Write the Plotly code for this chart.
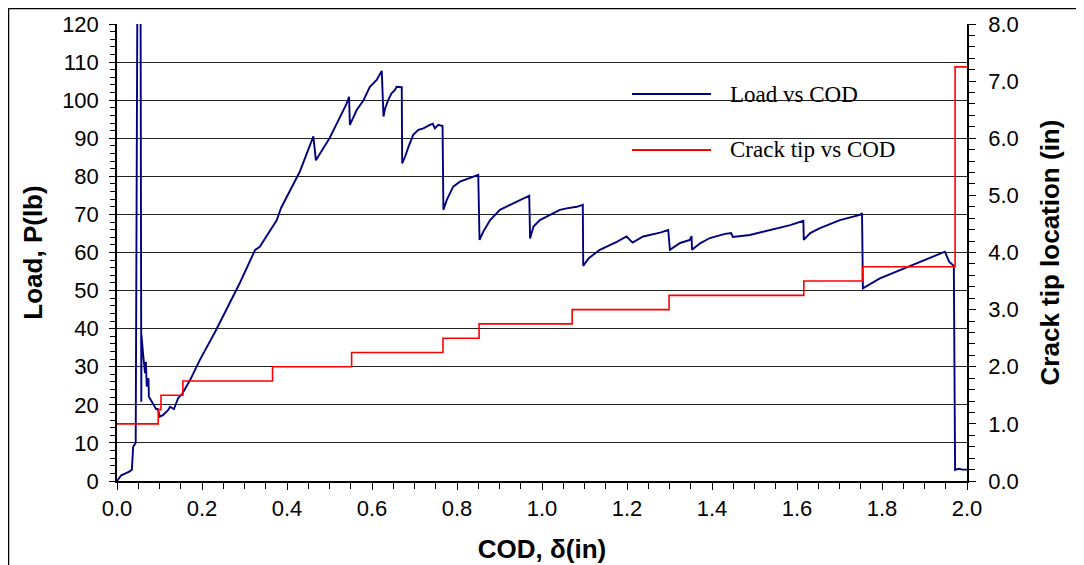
import plotly.graph_objects as go

# Load vs COD (left axis, lb)
cod_load = [0.0, 0.01, 0.02, 0.03, 0.035, 0.038, 0.044, 0.0477, 0.051, 0.0557, 0.0572,
            0.0575, 0.062, 0.066, 0.068, 0.070, 0.074, 0.075, 0.082, 0.092, 0.096, 0.101,
            0.108, 0.120, 0.125, 0.134, 0.144, 0.153, 0.172, 0.195, 0.231, 0.266, 0.289,
            0.325, 0.336, 0.376, 0.386, 0.43, 0.46, 0.462, 0.468, 0.48, 0.50, 0.52, 0.54,
            0.546, 0.548, 0.564, 0.58, 0.595, 0.611, 0.623, 0.627, 0.631, 0.638, 0.646,
            0.654, 0.658, 0.670, 0.671, 0.678, 0.686, 0.697, 0.709, 0.721, 0.736, 0.743,
            0.748, 0.756, 0.766, 0.768, 0.776, 0.791, 0.807, 0.827, 0.842, 0.850, 0.853,
            0.862, 0.878, 0.901, 0.925, 0.948, 0.970, 0.972, 0.98, 0.995, 1.019, 1.042,
            1.058, 1.082, 1.096, 1.097, 1.11, 1.136, 1.176, 1.199, 1.213, 1.238, 1.278,
            1.297, 1.301, 1.325, 1.348, 1.352, 1.353, 1.372, 1.395, 1.431, 1.445, 1.449,
            1.489, 1.536, 1.584, 1.615, 1.616, 1.631, 1.654, 1.701, 1.748, 1.753, 1.755,
            1.795, 1.842, 1.889, 1.925, 1.948, 1.958, 1.969, 1.972, 1.98, 1.99, 2.0]
load = [0.0, 1.5, 2.0, 2.5, 3.0, 9.0, 10.0, 120.0, 400.0, 120.0, 20.8,
        38.3, 32.6, 28.3, 31.3, 24.8, 27.0, 22.1, 20.8, 18.9, 18.9, 16.9,
        17.3, 18.6, 19.5, 18.9, 21.8, 22.8, 26.5, 31.8, 39.2, 46.7, 52.0,
        60.7, 61.5, 68.5, 71.7, 81.2, 90.3, 90.5, 84.2, 86.5, 90.0, 94.5, 99.0,
        100.9, 93.5, 97.4, 100.0, 103.5, 105.3, 107.7, 95.7, 97.9, 100.0, 101.8,
        102.7, 103.5, 103.4, 83.4, 85.2, 87.8, 90.9, 92.2, 92.6, 93.5, 93.8,
        92.6, 93.5, 93.2, 71.2, 73.8, 77.3, 78.6, 79.5, 80.1, 80.4, 63.3,
        65.5, 68.5, 71.2, 72.5, 73.8, 74.9, 63.7, 66.8, 68.5, 69.9, 71.2,
        71.6, 72.0, 72.5, 56.5, 58.5, 60.7, 62.8, 64.2, 62.6, 64.2, 65.2,
        65.9, 60.7, 62.5, 63.3, 64.3, 60.7, 62.4, 63.8, 64.9, 65.1, 64.1,
        64.6, 65.9, 67.2, 68.3, 63.3, 65.1, 66.4, 68.5, 69.9, 70.3, 50.6,
        53.2, 55.4, 57.6, 59.3, 60.2, 57.6, 56.5, 2.9, 3.2, 3.0, 3.0]

# Crack tip location vs COD (right axis, in)
cod_crack = [0.0, 0.097, 0.1035, 0.155, 0.366, 0.552, 0.767, 0.852, 1.071, 1.299,
             1.616, 1.754, 1.972, 2.0]
crack_tip = [1.0, 1.25, 1.5, 1.75, 2.0, 2.25, 2.5, 2.75, 3.0, 3.25,
             3.5, 3.75, 7.25, 7.25]

legend_names = ["Load vs COD", "Crack tip vs COD"]
left_ticks = list(range(0, 121, 10))
right_ticks = [0, 1, 2, 3, 4, 5, 6, 7, 8]
x_ticks = [0.0, 0.2, 0.4, 0.6, 0.8, 1.0, 1.2, 1.4, 1.6, 1.8, 2.0]

BLUE = "#000080"
RED = "#ff0000"
AX_FONT = dict(family="Liberation Sans, Arial, sans-serif", size=22, color="black")
TITLE_FONT = dict(family="Liberation Sans, Arial, sans-serif", size=26, color="black")

fig = go.Figure()
fig.add_trace(go.Scatter(x=cod_load, y=load, mode="lines", name=legend_names[0],
                         line=dict(color=BLUE, width=1.9), showlegend=False))
fig.add_trace(go.Scatter(x=cod_crack, y=crack_tip, mode="lines", name=legend_names[1],
                         line=dict(color=RED, width=1.6, shape="hv"), yaxis="y2",
                         showlegend=False))

# page body has an 8px margin; plot area target (viewport): x 117..967, y 24..481
OFF = 8
L, T = 117 - OFF, 24 - OFF
W, H = 1084, 565
pw, ph = 850, 457
R = W - L - pw
B = H - T - ph


def px(vx):
    return (vx - OFF - L) / pw


def py(vy):
    return (T + ph - (vy - OFF)) / ph


fig.update_layout(
    width=W, height=H,
    margin=dict(l=L, r=R, t=T, b=B, pad=0, autoexpand=False),
    paper_bgcolor="white", plot_bgcolor="white",
    xaxis=dict(
        range=[0, 2], tickvals=x_ticks, tickformat=".1f", automargin=False,
        showline=True, linecolor="black", linewidth=1.8, mirror=False,
        ticks="outside", ticklen=7, tickcolor="black", tickwidth=1,
        minor=dict(dtick=0.05, ticks="outside", ticklen=6, tickcolor="black", showgrid=False),
        showgrid=False, zeroline=False,
        tickfont=AX_FONT,
        title=dict(text="<b>COD, δ(in)</b>", font=TITLE_FONT, standoff=20),
    ),
    yaxis=dict(
        range=[0, 120], tickvals=left_ticks, automargin=False,
        showline=True, linecolor="black", linewidth=1.5,
        ticks="outside", ticklen=6, tickcolor="black", tickwidth=1,
        minor=dict(dtick=2, ticks="outside", ticklen=5, tickcolor="black", showgrid=False),
        showgrid=True, gridcolor="#222222", gridwidth=1, zeroline=False,
        tickfont=AX_FONT, ticklabelstandoff=6,
        title=dict(text="<b>Load, P(lb)</b>", font=TITLE_FONT, standoff=12),
    ),
    yaxis2=dict(
        range=[0, 8], tickvals=right_ticks, tickformat=".1f", automargin=False,
        overlaying="y", side="right", anchor="x",
        showline=True, linecolor="black", linewidth=1.5,
        ticks="outside", ticklen=7, tickcolor="black", tickwidth=1,
        minor=dict(dtick=0.2, ticks="outside", ticklen=6, tickcolor="black", showgrid=False),
        showgrid=False, zeroline=False,
        tickfont=AX_FONT, ticklabelstandoff=8,
        title=dict(text="<b>Crack tip location (in)</b>", font=TITLE_FONT, standoff=23),
    ),
)

# Outer frame
fig.add_shape(type="rect", xref="paper", yref="paper",
              x0=px(8.5), x1=px(1110), y0=py(590), y1=py(8.5),
              line=dict(color="black", width=1.5), fillcolor="rgba(0,0,0,0)", layer="below")

# Manual legend (line samples + labels)
LEG_FONT = dict(family="Liberation Serif, Times New Roman, serif", size=23, color="black")
for name, color, yp in [(legend_names[0], BLUE, 94), (legend_names[1], RED, 150)]:
    fig.add_shape(type="line", xref="paper", yref="paper",
                  x0=px(632), x1=px(711), y0=py(yp), y1=py(yp),
                  line=dict(color=color, width=2))
    fig.add_annotation(xref="paper", yref="paper", x=px(728), y=py(yp),
                       text=name, showarrow=False, xanchor="left", yanchor="middle",
                       font=LEG_FONT)

fig.write_html("out.html")
